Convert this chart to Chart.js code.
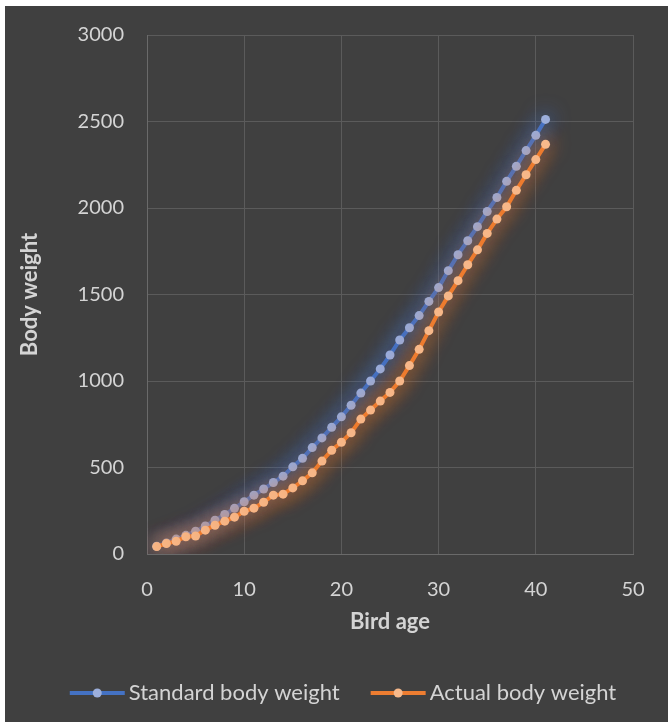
<!DOCTYPE html>
<html>
<head>
<meta charset="utf-8">
<script src="https://cdn.jsdelivr.net/npm/chart.js@4.4.1/dist/chart.umd.min.js"></script>
<style>
  html, body { margin: 0; padding: 0; background: #ffffff; }
  #wrap { position: absolute; left: 5px; top: 6px; width: 663px; height: 716px; background: #404040; }
  canvas { display: block; }
</style>
</head>
<body>
<div id="wrap"><canvas id="c" width="663" height="716"></canvas></div>
<script>
// ---- Data ----
const ages = [1,2,3,4,5,6,7,8,9,10,11,12,13,14,15,16,17,18,19,20,21,22,23,24,25,26,27,28,29,30,31,32,33,34,35,36,37,38,39,40,41];
const standardWeight = [45,64,86,108,132,162,195,229,264,302,340,376,413,450,504,553,615,671,732,793,860,930,1000,1070,1150,1237,1308,1378,1460,1540,1638,1730,1811,1892,1980,2061,2154,2241,2332,2420,2512];
const actualWeight = [43,60,74,100,104,138,166,190,213,247,265,299,340,346,382,423,469,537,600,646,701,780,832,884,934,1000,1089,1183,1291,1399,1492,1580,1672,1758,1853,1936,2007,2102,2192,2280,2368];
const seriesNames = ['Standard body weight', 'Actual body weight'];
const xTitle = 'Bird age';
const yTitle = 'Body weight';

const FONT = 'Lato';
const tickColor = '#d4d4d4';
const gridColor = '#5b5b5b';

const toPoints = (xs, ys) => xs.map((x, i) => ({ x: x, y: ys[i] }));

const glowPlugin = {
  id: 'glow',
  beforeDatasetDraw(chart, args) {
    const ctx = chart.ctx;
    ctx.save();
    ctx.shadowColor = chart.data.datasets[args.index].glowColor;
    ctx.shadowBlur = 20;
  },
  afterDatasetDraw(chart) {
    chart.ctx.restore();
  }
};

const legendPlugin = {
  id: 'customLegend',
  afterDraw(chart) {
    const ctx = chart.ctx;
    const ds = chart.data.datasets;
    ctx.save();
    ctx.font = '22px ' + FONT;
    ctx.textBaseline = 'middle';
    const lineLen = 55, textGap = 4, itemGap = 31;
    const widths = ds.map(d => lineLen + textGap + ctx.measureText(d.label).width);
    const total = widths.reduce((a, b) => a + b, 0) + itemGap * (ds.length - 1);
    let x = 338 - total / 2;
    const y = 687;
    ds.forEach((d, i) => {
      ctx.strokeStyle = d.borderColor;
      ctx.lineWidth = 4;
      ctx.beginPath();
      ctx.moveTo(x, y);
      ctx.lineTo(x + lineLen, y);
      ctx.stroke();
      ctx.fillStyle = d.pointBackgroundColor;
      ctx.beginPath();
      ctx.arc(x + lineLen / 2, y, 4.5, 0, Math.PI * 2);
      ctx.fill();
      ctx.fillStyle = tickColor;
      ctx.textAlign = 'left';
      ctx.fillText(d.label, x + lineLen + textGap, y);
      x += widths[i] + itemGap;
    });
    ctx.restore();
  }
};

new Chart(document.getElementById('c'), {
  type: 'line',
  data: {
    datasets: [
      {
        label: seriesNames[0],
        data: toPoints(ages, standardWeight),
        borderColor: '#4472c4',
        pointBackgroundColor: '#9cafdc',
        glowColor: 'rgba(75,125,215,1)',
        order: 1
      },
      {
        label: seriesNames[1],
        data: toPoints(ages, actualWeight),
        borderColor: '#ed7d31',
        pointBackgroundColor: '#f7b98b',
        glowColor: 'rgba(240,125,45,1)',
        order: 0
      }
    ]
  },
  options: {
    responsive: false,
    animation: false,
    devicePixelRatio: 1,
    layout: { padding: { top: 29, right: 35, left: 0, bottom: 0 } },
    elements: {
      line: { borderWidth: 4, tension: 0 },
      point: { radius: 4.5, borderWidth: 0, hoverRadius: 4.5 }
    },
    plugins: { legend: { display: false }, tooltip: { enabled: false } },
    scales: {
      x: {
        type: 'linear',
        min: 0, max: 50,
        ticks: { stepSize: 10, color: tickColor, font: { family: FONT, size: 20 }, padding: 24, callback: v => String(v) },
        grid: { color: gridColor, drawTicks: false },
        border: { color: '#6a6a6a' },
        title: { display: true, text: xTitle, color: tickColor, font: { family: FONT, size: 22, weight: 'bold' }, padding: { top: 0, bottom: 87 } },
        afterFit(s) { s.height = 168; s.paddingLeft = 0; s.paddingRight = 0; }
      },
      y: {
        min: 0, max: 3000,
        ticks: { stepSize: 500, color: tickColor, font: { family: FONT, size: 20 }, padding: 23, callback: v => String(v) },
        grid: { color: gridColor, drawTicks: false },
        border: { color: '#6a6a6a' },
        title: { display: true, text: yTitle, color: tickColor, font: { family: FONT, size: 22, weight: 'bold' }, padding: { top: 12, bottom: 0 } },
        afterFit(s) { s.width = 142; s.paddingTop = 0; s.paddingBottom = 0; }
      }
    }
  },
  plugins: [glowPlugin, legendPlugin]
});
</script>
</body>
</html>
